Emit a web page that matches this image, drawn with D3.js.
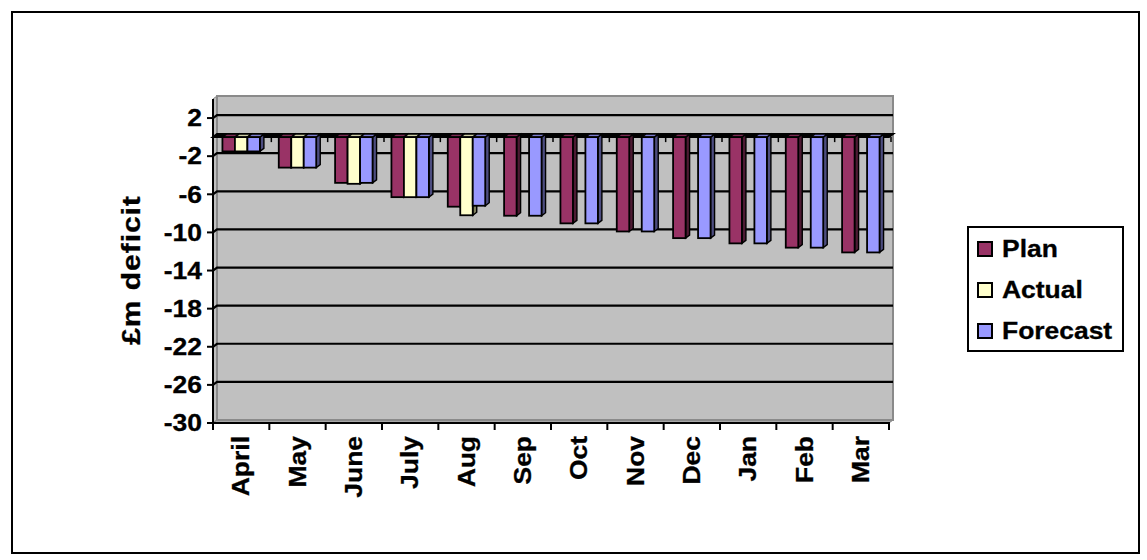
<!DOCTYPE html>
<html>
<head>
<meta charset="utf-8">
<script src="https://cdn.jsdelivr.net/npm/d3@7/dist/d3.min.js"></script>
<style>
  html, body { margin: 0; padding: 0; background: #fff; }
  svg { display: block; }
  text { font-family: Arial, "Liberation Sans", sans-serif; font-weight: bold; fill: #000; stroke: #000; stroke-width: 0.3px; }
</style>
</head>
<body>
<svg id="chart" width="1147" height="560"></svg>
<script>
// Monthly deficit, £m
const months = ["April", "May", "June", "July", "Aug", "Sep", "Oct", "Nov", "Dec", "Jan", "Feb", "Mar"];
const seriesNames = ["Plan", "Actual", "Forecast"];
const plan     = [-1.5, -3.2, -4.8, -6.3, -7.3, -8.25, -9.05, -9.9, -10.6, -11.15, -11.6, -12.1];
const actual   = [-1.5, -3.2, -4.9, -6.3, -8.2, null, null, null, null, null, null, null];
const forecast = [-1.5, -3.2, -4.8, -6.3, -7.2, -8.25, -9.05, -9.9, -10.6, -11.15, -11.6, -12.1];
const yTicks = [2, -2, -6, -10, -14, -18, -22, -26, -30];
const yDomain = [4, -30];
const yTitle = "£m deficit";

const frontColors = ["#993366", "#FFFFCC", "#9999FF"];
const sideColors  = ["#4d1a33", "#80805f", "#4d4d80"];
const topColors   = ["#7a2952", "#cccca3", "#7a7acc"];

const seriesValues = [plan, actual, forecast];

const svg = d3.select("#chart");

// outer frame
svg.append("rect")
  .attr("x", 12).attr("y", 12).attr("width", 1127).attr("height", 541)
  .attr("fill", "#fff").attr("stroke", "#000").attr("stroke-width", 2);

// front-plane scales
const x0 = d3.scaleBand().domain(months).range([213, 889]);
const y = d3.scaleLinear().domain(yDomain).range([99, 423]);
const DX = 4, DY = -3;   // depth offset of the back wall

const xL = x0.range()[0], xR = x0.range()[1];
const yT = y(yDomain[0]), yB = y(yDomain[1]);

const clusterW = x0.bandwidth() * 0.665;
const x1 = d3.scaleBand().domain(seriesNames).range([0, clusterW]);

const poly = pts => pts.map(p => p.join(",")).join(" ");

// side wall
svg.append("polygon")
  .attr("points", poly([[xL, yT], [xL + DX, yT + DY], [xL + DX, yB + DY], [xL, yB]]))
  .attr("fill", "#c0c0c0").attr("stroke", "#808080").attr("stroke-width", 1);
// floor
svg.append("polygon")
  .attr("points", poly([[xL, yB], [xR, yB], [xR + DX, yB + DY], [xL + DX, yB + DY]]))
  .attr("fill", "#a8a8a8").attr("stroke", "#808080").attr("stroke-width", 1);
// back wall
svg.append("rect")
  .attr("x", xL + DX).attr("y", yT + DY)
  .attr("width", xR - xL).attr("height", yB - yT)
  .attr("fill", "#c0c0c0").attr("stroke", "#8a8a8a").attr("stroke-width", 2);

// gridlines on wall
const grid = svg.append("g");
yTicks.filter(t => t > yDomain[1]).forEach(t => {
  grid.append("polyline")
    .attr("points", poly([[xL, y(t)], [xL + DX, y(t) + DY], [xR + DX, y(t) + DY]]))
    .attr("fill", "none").attr("stroke", "#000").attr("stroke-width", 2.2);
});

// zero plane strip
const y0 = y(0);
svg.append("polygon")
  .attr("points", poly([[xL, y0], [xR, y0], [xR + DX, y0 + DY], [xL + DX, y0 + DY]]))
  .attr("fill", "#000").attr("stroke", "#000").attr("stroke-width", 2);
// small marks under the zero plane at category boundaries
const bounds = months.map(m => x0(m)).concat([xR]);
svg.append("g").selectAll("line").data(bounds.slice(1)).join("line")
  .attr("x1", d => d + 2).attr("x2", d => d + 2)
  .attr("y1", y0).attr("y2", y0 + 5)
  .attr("stroke", "#000").attr("stroke-width", 1.5);

// bars
const bars = svg.append("g");
months.forEach((m, i) => {
  const cx0 = x0(m) + (x0.bandwidth() - clusterW) / 2;
  seriesNames.forEach((s, k) => {
    const v = seriesValues[k][i];
    if (v == null) return;
    const bx = cx0 + x1(s), bw = x1.bandwidth();
    const yt = y(0), yb = y(v);
    const g = bars.append("g");
    // right side face
    g.append("polygon")
      .attr("points", poly([[bx + bw, yt], [bx + bw + DX, yt + DY], [bx + bw + DX, yb + DY], [bx + bw, yb]]))
      .attr("fill", sideColors[k]).attr("stroke", "#000").attr("stroke-width", 1.4);
    // top face
    g.append("polygon")
      .attr("points", poly([[bx, yt], [bx + DX, yt + DY], [bx + bw + DX, yt + DY], [bx + bw, yt]]))
      .attr("fill", topColors[k]).attr("stroke", "#000").attr("stroke-width", 1.4);
    // front face
    g.append("rect")
      .attr("x", bx).attr("y", yt).attr("width", bw).attr("height", yb - yt)
      .attr("fill", frontColors[k]).attr("stroke", "#000").attr("stroke-width", 1.8);
  });
});

// value axis
const yAxis = svg.append("g");
yAxis.append("line")
  .attr("x1", xL).attr("x2", xL).attr("y1", yT).attr("y2", yB + 1)
  .attr("stroke", "#000").attr("stroke-width", 2);
yAxis.selectAll("line.tick").data(yTicks).join("line").attr("class", "tick")
  .attr("x1", xL - 6).attr("x2", xL).attr("y1", d => y(d)).attr("y2", d => y(d))
  .attr("stroke", "#000").attr("stroke-width", 2);
yAxis.selectAll("text").data(yTicks).join("text")
  .attr("transform", d => `translate(${xL - 11},${y(d)}) scale(1.15,1)`)
  .attr("text-anchor", "end").attr("dy", "0.36em")
  .style("font-size", "23px")
  .text(d => d);

// category axis
const xAxis = svg.append("g");
xAxis.append("line")
  .attr("x1", xL - 1).attr("x2", xR + 1).attr("y1", yB).attr("y2", yB)
  .attr("stroke", "#000").attr("stroke-width", 2);
xAxis.selectAll("line.tick").data(bounds).join("line").attr("class", "tick")
  .attr("x1", d => d).attr("x2", d => d).attr("y1", yB).attr("y2", yB + 7)
  .attr("stroke", "#000").attr("stroke-width", 2);
xAxis.selectAll("text").data(months).join("text")
  .attr("transform", d => `translate(${x0(d) + x0.bandwidth() / 2},${yB + 13}) rotate(-90) scale(1.15,1)`)
  .attr("text-anchor", "end").attr("dy", "0.36em")
  .style("font-size", "23px")
  .text(d => d);

// axis title
svg.append("text")
  .attr("transform", "translate(131,270) rotate(-90) scale(1.2,1)")
  .attr("text-anchor", "middle").attr("dy", "0.36em")
  .style("font-size", "25px").style("letter-spacing", "0.8px")
  .text(yTitle);

// legend
const legend = svg.append("g");
legend.append("rect")
  .attr("x", 968).attr("y", 227).attr("width", 155).attr("height", 124)
  .attr("fill", "#fff").attr("stroke", "#000").attr("stroke-width", 2);
const li = legend.selectAll("g.item").data(seriesNames).join("g").attr("class", "item")
  .attr("transform", (d, i) => `translate(978,${242 + i * 41})`);
li.append("rect")
  .attr("width", 14).attr("height", 14)
  .attr("fill", (d, i) => frontColors[i]).attr("stroke", "#000").attr("stroke-width", 2);
li.append("text")
  .attr("transform", "translate(24,15) scale(1.15,1)")
  .style("font-size", "23px")
  .text(d => d);
</script>
</body>
</html>
